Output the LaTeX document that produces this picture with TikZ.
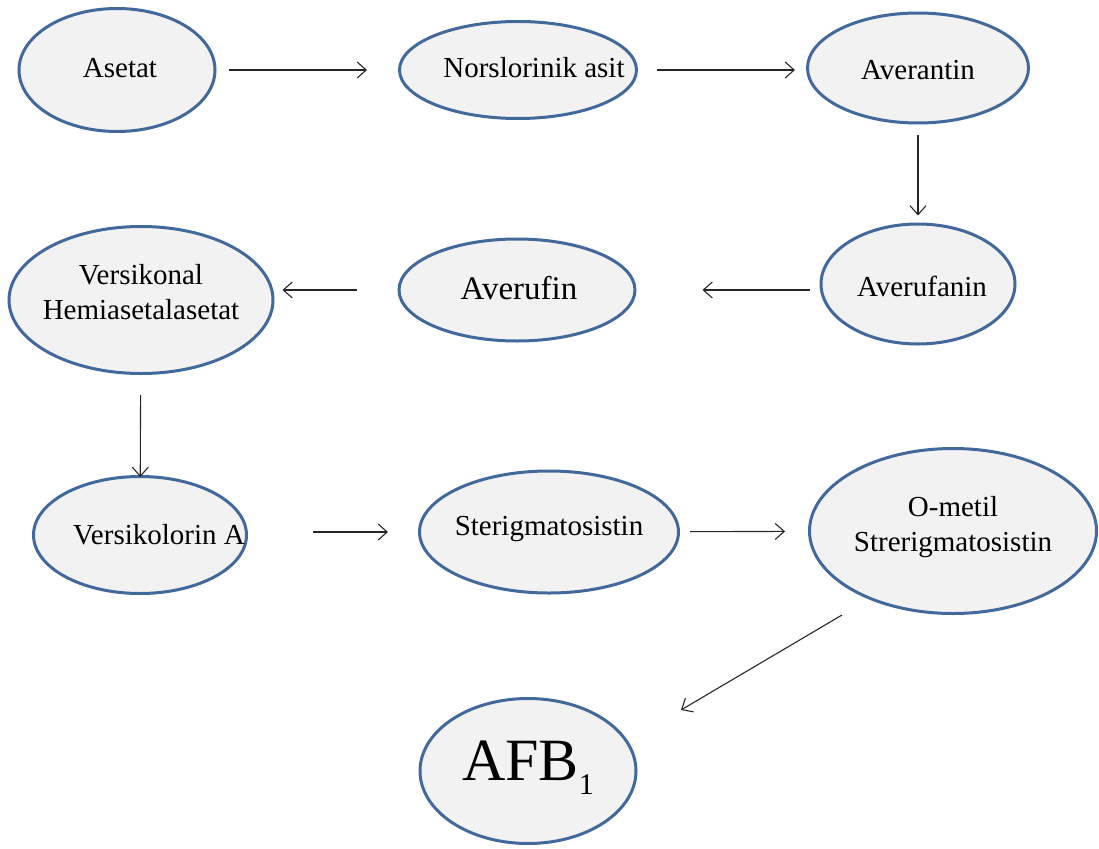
\documentclass[tikz,border=0pt]{standalone}
\usepackage{fontspec}
\setmainfont{Liberation Serif}
\usepackage{xcolor}
\usepackage{tikz}
\definecolor{ringblue}{HTML}{41699C}
\definecolor{ringfill}{HTML}{F2F2F2}
\usetikzlibrary{shapes,arrows.meta,calc}
% text that does not widen its ellipse: #1 shift right, #2 shift up
\newcommand{\lbl}[3]{\raisebox{#2}[0pt][0pt]{\makebox[0pt]{\hspace*{#1}\begin{tabular}{@{}c@{}}#3\end{tabular}}}}

\begin{document}
\begin{tikzpicture}[x=1pt,y=-1pt,
    stage/.style={ellipse, draw=ringblue, line width=3pt, fill=ringfill, inner sep=0pt, font=\fontsize{29}{35}\selectfont},
    flow/.style={-{Straight Barb[length=9pt,width=16pt]}, line width=1.1pt, draw=black!85}]
    \useasboundingbox (0,0) rectangle (1099,848);
    % top row
    \node[stage, minimum width=196, minimum height=123] (asetat) at (117,70) {\lbl{6pt}{-7pt}{Asetat}};
    \node[stage, minimum width=237, minimum height=97] (norslo) at (518,70) {\lbl{32pt}{-7pt}{Norslorinik asit}};
    \node[stage, minimum width=221, minimum height=110] (averantin) at (918,68) {\lbl{0pt}{-11pt}{Averantin}};
    % middle row
    \node[stage, minimum width=194, minimum height=120] (averufanin) at (918,284) {\lbl{8pt}{-12pt}{Averufanin}};
    \node[stage, minimum width=236, minimum height=102, font=\fontsize{33}{38}\selectfont] (averufin) at (517,290) {\lbl{4pt}{-8pt}{Averufin}};
    \node[stage, minimum width=264, minimum height=147] (versikonal) at (141,300) {\lbl{0pt}{-1pt}{Versikonal\\Hemiasetalasetat}};
    % lower row
    \node[stage, minimum width=213, minimum height=117] (versikolorin) at (140,535) {\lbl{38pt}{-9pt}{Versikolorin A}};
    \node[stage, minimum width=259, minimum height=122] (sterig) at (549,532) {\lbl{0pt}{-3pt}{Sterigmatosistin}};
    \node[stage, minimum width=287, minimum height=165] (ometil) at (953,531) {\lbl{0pt}{-2pt}{O-metil\\Strerigmatosistin}};
    \node[stage, minimum width=216, minimum height=145, font=\fontsize{60}{60}\selectfont] (afb) at (528,771) {\lbl{0pt}{-4pt}{AFB\raisebox{-14pt}{\fontsize{30}{30}\selectfont 1}}};

    \draw[flow, shorten <=12pt, shorten >=31pt] (asetat) -- (norslo);
    \draw[flow, shorten <=19pt, shorten >=11pt] (norslo.east) -- (norslo.east -| averantin.west);
    \draw[flow, shorten <=10pt, shorten >=7pt] (averantin) -- (averufanin);
    \draw[flow, shorten <=10pt, shorten >=66pt] (averufanin.west |- averufin) -- (averufin.east);
    \draw[flow, shorten <=41pt, shorten >=8pt] (averufin.west) -- (averufin.west -| versikonal.east);
    \draw[flow, shorten <=20pt, shorten >=-2pt] (versikonal) -- (versikolorin);
    \draw[flow, shorten <=65pt, shorten >=30pt] (versikolorin.east |- sterig) -- (sterig.west);
    \draw[flow, shorten <=10pt, shorten >=23pt] (sterig) -- (ometil);
    \draw[flow] ($(ometil.south)+(-111,0)$) -- ($(afb.north)+(153,13)$);
\end{tikzpicture}
\end{document}
